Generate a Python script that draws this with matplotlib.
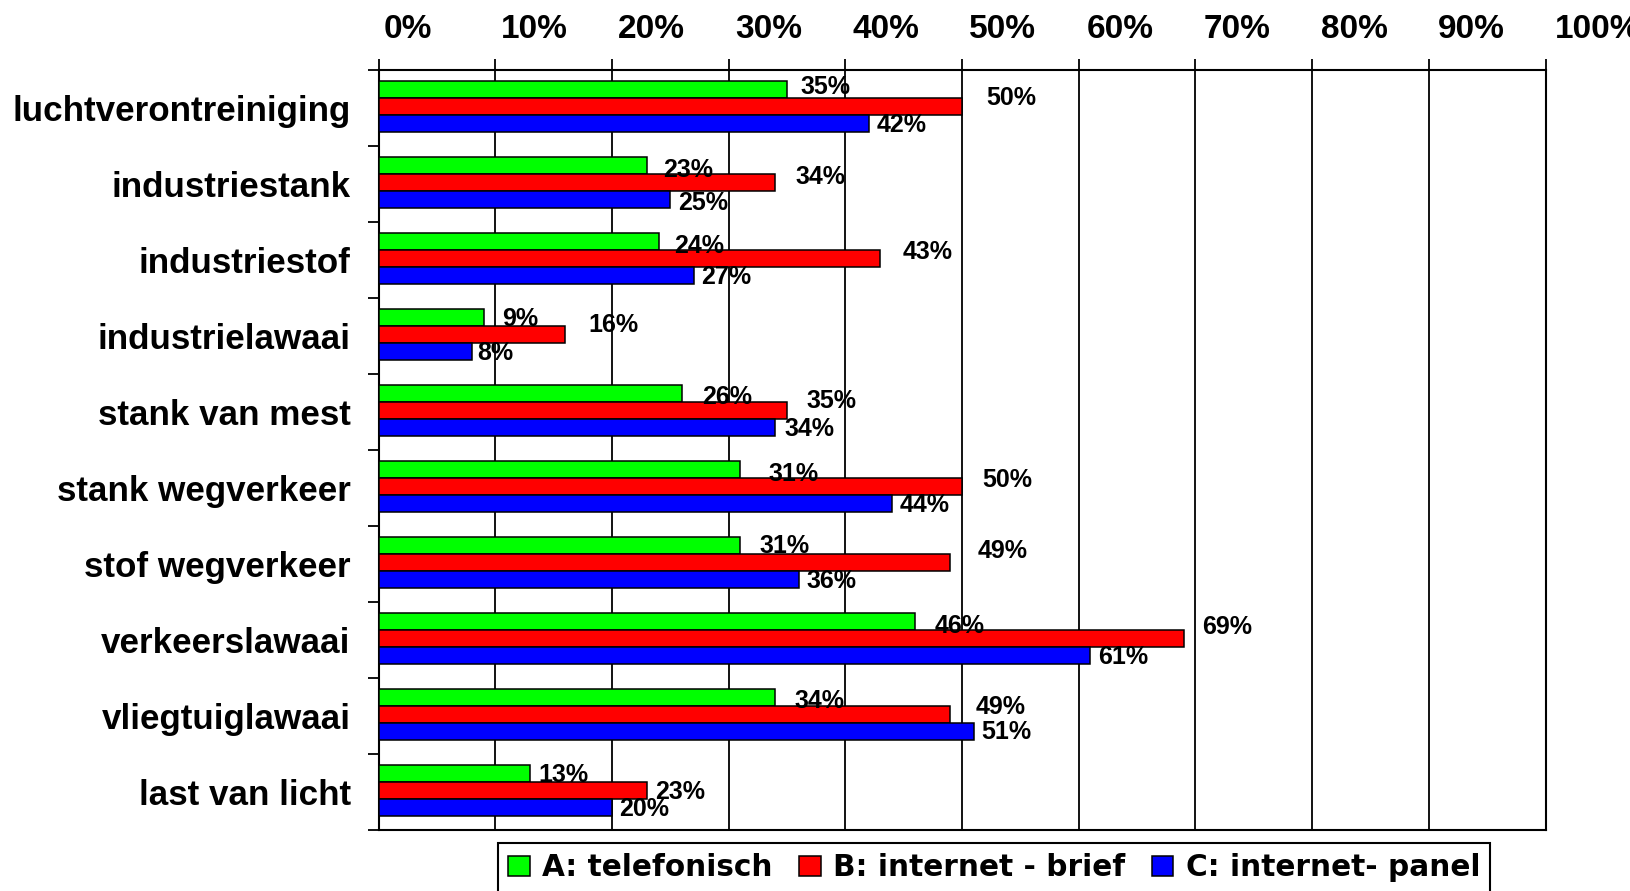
import matplotlib
matplotlib.use('Agg')
import matplotlib.pyplot as plt
from matplotlib.patches import Patch
from matplotlib.transforms import ScaledTranslation
import numpy as np

plt.rcParams['font.family'] = ['Liberation Sans', 'DejaVu Sans']
plt.rcParams['font.weight'] = 'bold'

categories = ['luchtverontreiniging', 'industriestank', 'industriestof',
              'industrielawaai', 'stank van mest', 'stank wegverkeer',
              'stof wegverkeer', 'verkeerslawaai', 'vliegtuiglawaai',
              'last van licht']
telefonisch = [35, 23, 24, 9, 26, 31, 31, 46, 34, 13]
internet_brief = [50, 34, 43, 16, 35, 50, 49, 69, 49, 23]
internet_panel = [42, 25, 27, 8, 34, 44, 36, 61, 51, 20]
series_names = ['A: telefonisch', 'B: internet - brief', 'C: internet- panel']
colors = ['#00FF00', '#FF0000', '#0000FF']
tick_labels = ['0%', '10%', '20%', '30%', '40%', '50%', '60%', '70%', '80%', '90%', '100%']

# value label nudges in pixels (right, down), as placed in the original
green_off = [(14, -4), (16, 3), (16, 3), (19, 0), (20, 1.5), (28, 3), (19, -1), (19, 3), (19, 1.5), (8, 0)]
red_off = [(24, -10.5), (20, -7.5), (22, -8), (23, -11.5), (20, -11.5), (20, -8.5), (27, -13.5), (18, -13), (25, -9), (8, 0)]
blue_off = [(8, 0), (8, 2), (8, 0), (5, 0), (9, 0), (8, 0), (8, 0), (8, 0), (8, -1), (7, 0)]

fig = plt.figure(figsize=(16.3, 8.91), dpi=100)
ax = fig.add_axes([378.5 / 1630, 1 - 830 / 891, 1167 / 1630, 760 / 891])

y = np.arange(len(categories)) + 0.5
bar_h = 17 / 76
shift = -0.02

all_series = [telefonisch, internet_brief, internet_panel]
all_offsets = [green_off, red_off, blue_off]
for k, (vals, color, offs) in enumerate(zip(all_series, colors, all_offsets)):
    yy = y + (k - 1) * bar_h + shift
    ax.barh(yy, vals, height=bar_h, color=color, edgecolor='black',
            linewidth=1.1, zorder=3)
    for i, v in enumerate(vals):
        dx, dy = offs[i]
        ax.annotate(f'{v}%', xy=(v, yy[i]), xytext=(dx, -(dy + 9)),
                    textcoords='offset pixels', ha='left', va='baseline',
                    fontsize=18, fontweight='bold', zorder=4)

ax.set_xlim(0, 100)
ax.set_ylim(len(categories), 0)

# x axis on top, labels sit a little right of their gridline
ax.xaxis.tick_top()
ax.set_xticks(np.arange(0, 101, 10))
ax.set_xticklabels(tick_labels, fontsize=24, fontweight='bold', ha='left')
ax.tick_params(axis='x', direction='out', length=7.9, width=1.3, pad=10)
for i, lbl in enumerate(ax.get_xticklabels()):
    nudge = 5 + 0.45 * i
    lbl.set_transform(lbl.get_transform() + ScaledTranslation(nudge / 100, 0, fig.dpi_scale_trans))

# y ticks at group borders, labels at group centres
ax.set_yticks(np.arange(0, len(categories) + 1))
ax.set_yticklabels([])
ax.tick_params(axis='y', which='major', direction='out', length=7.9, width=1.3)
ax.set_yticks(y, minor=True)
ax.set_yticklabels(categories, minor=True, fontsize=25.2, fontweight='bold')
ax.tick_params(axis='y', which='minor', length=0, pad=20)

ax.grid(axis='x', color='black', linewidth=1.3, zorder=1)
for sp in ax.spines.values():
    sp.set_linewidth(1.5)
    sp.set_color('black')

handles = [Patch(facecolor=c, edgecolor='black', linewidth=1.1) for c in colors]
leg = fig.legend(handles, series_names, loc='upper left',
                 bbox_to_anchor=(498 / 1630, 1 - 843 / 891), ncol=3,
                 frameon=True, fancybox=False, framealpha=1,
                 prop={'family': 'DejaVu Sans', 'weight': 'bold', 'size': 21.3},
                 handlelength=0.72, handleheight=0.69, handletextpad=0.42,
                 columnspacing=0.9, borderpad=0.35, borderaxespad=0)
leg.get_frame().set_edgecolor('black')
leg.get_frame().set_linewidth(1.5)

fig.savefig('out.png', dpi=100)
